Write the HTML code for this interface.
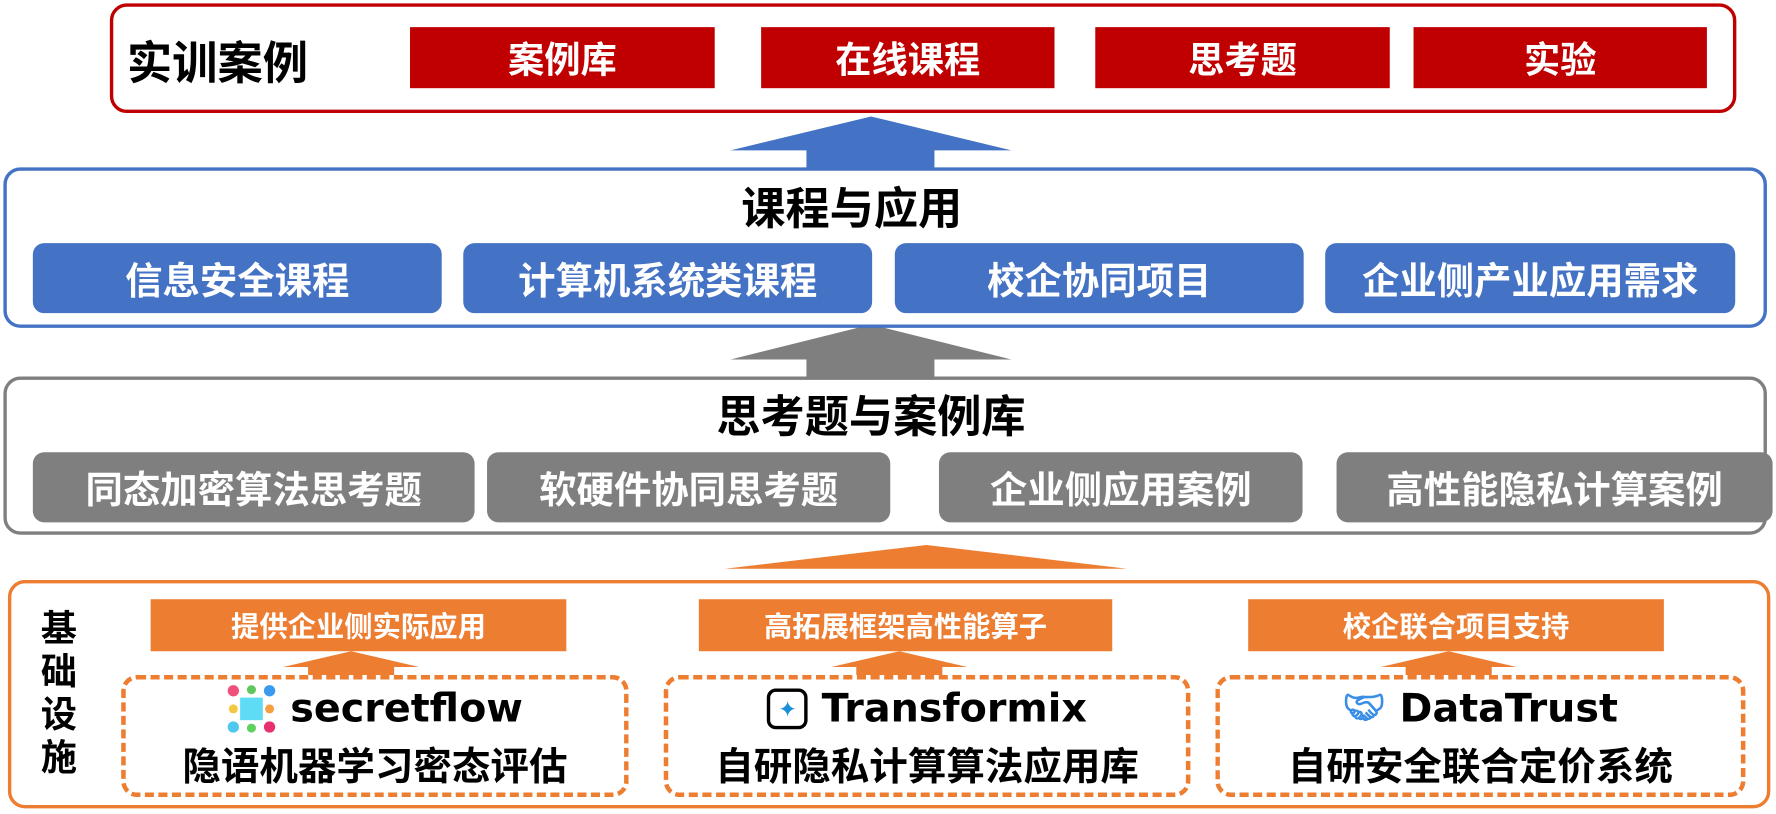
<!DOCTYPE html><html><head><meta charset="utf-8"><style>
body{margin:0;width:1776px;height:814px;overflow:hidden;background:#fff;font-family:"Liberation Sans","Noto Sans CJK SC",sans-serif;font-weight:bold}
#w{position:absolute;left:0;top:0;width:1568px;height:720px;transform:scale(1.13265,1.1306);transform-origin:0 0}
.a{position:absolute;box-sizing:border-box;display:flex;align-items:center;justify-content:center;white-space:nowrap}
.rb{background:#c00000;color:#fff;font-size:32px;top:24px;height:54px}
.bp{background:#4472c4;color:#fff;font-size:33px;top:215px;height:62px;border-radius:10px}
.gp{background:#7f7f7f;color:#fff;font-size:33px;top:400px;height:62px;border-radius:10px}
.ob{background:#ed7d31;color:#fff;font-size:25px;top:530px;height:46px}
.db{border:4px dashed #ed7d31;border-radius:14px;top:597px;height:108px;flex-direction:column;color:#000}
.db .l{font-size:35px;display:flex;align-items:center;gap:12px;height:48px;font-family:"DejaVu Sans","Noto Sans CJK SC",sans-serif}
.db .c{font-size:34px}
svg{position:absolute;left:0;top:0}
</style></head><body><div id="w">
<svg width="1568" height="720">
<polygon points="645,133 769,103 893,133 825,133 825,150 712,150 712,133" fill="#4472c4"/>
<polygon points="645,318 769,287 893,318 825,318 825,335 712,335 712,318" fill="#7f7f7f"/>
<polygon points="640,503 818,482 995,503" fill="#ed7d31"/>
<g fill="#ed7d31">
<polygon points="272,597 272,590 250,590 310,576 370,590 348,590 348,597"/>
<polygon points="756,597 756,590 734,590 794,576 854,590 832,590 832,597"/>
<polygon points="1241,597 1241,590 1219,590 1279,576 1339,590 1317,590 1317,597"/>
</g>
</svg>
<div class="a" style="left:97px;top:3px;width:1436px;height:97px;border:3px solid #c00000;border-radius:15px"></div>
<div class="a" style="left:112px;top:28px;height:50px;font-size:40px;color:#000">实训案例</div>
<div class="a rb" style="left:362px;width:269px">案例库</div>
<div class="a rb" style="left:672px;width:259px">在线课程</div>
<div class="a rb" style="left:967px;width:260px">思考题</div>
<div class="a rb" style="left:1248px;width:259px">实验</div>

<div class="a" style="left:3px;top:148px;width:1557px;height:142px;border:3px solid #4472c4;border-radius:15px"></div>
<div class="a" style="left:0;width:1568px;top:158px;height:48px;font-size:39px;color:#000;padding-right:64px">课程与应用</div>
<div class="a bp" style="left:29px;width:361px">信息安全课程</div>
<div class="a bp" style="left:409px;width:361px">计算机系统类课程</div>
<div class="a bp" style="left:790px;width:361px">校企协同项目</div>
<div class="a bp" style="left:1170px;width:362px">企业侧产业应用需求</div>

<div class="a" style="left:3px;top:333px;width:1557px;height:140px;border:3px solid #7f7f7f;border-radius:15px"></div>
<div class="a" style="left:0;width:1568px;top:342px;height:48px;font-size:39px;color:#000;padding-right:30px">思考题与案例库</div>
<div class="a gp" style="left:29px;width:390px">同态加密算法思考题</div>
<div class="a gp" style="left:430px;width:356px">软硬件协同思考题</div>
<div class="a gp" style="left:829px;width:321px">企业侧应用案例</div>
<div class="a gp" style="left:1180px;width:385px">高性能隐私计算案例</div>

<div class="a" style="left:7px;top:513px;width:1556px;height:202px;border:3px solid #ed7d31;border-radius:15px"></div>
<div class="a" style="left:32px;top:535px;width:40px;height:155px;font-size:32px;white-space:normal;line-height:38px;text-align:center;color:#000">基础设施</div>
<div class="a ob" style="left:133px;width:367px">提供企业侧实际应用</div>
<div class="a ob" style="left:617px;width:365px">高拓展框架高性能算子</div>
<div class="a ob" style="left:1102px;width:367px">校企联合项目支持</div>

<div class="a db" style="left:107px;width:448px"><div class="l"><svg style="position:static" width="44" height="44" viewBox="0 0 44 44"><rect x="12" y="12" width="20" height="20" fill="#5fdcf5"/><circle cx="6" cy="6" r="5" fill="#f0507a"/><circle cx="22" cy="5" r="4" fill="#5ec860"/><circle cx="38" cy="6" r="5" fill="#3a9af0"/><circle cx="6" cy="22" r="4" fill="#f5c842"/><circle cx="38" cy="22" r="4" fill="#f5a040"/><circle cx="6" cy="38" r="5" fill="#4fc8f0"/><circle cx="22" cy="39" r="4" fill="#60d060"/><circle cx="38" cy="38" r="5" fill="#e83070"/></svg>secretflow</div><div class="c">隐语机器学习密态评估</div></div>
<div class="a db" style="left:586px;width:465px"><div class="l"><span style="width:36px;height:36px;border:3px solid #000;border-radius:8px;box-sizing:border-box;display:inline-block;color:#1a8fd8;font-size:20px;text-align:center;line-height:30px">✦</span>Transformix</div><div class="c">自研隐私计算算法应用库</div></div>
<div class="a db" style="left:1073px;width:468px"><div class="l"><span style="color:#3a8ee6;font-size:30px">🤝︎</span>DataTrust</div><div class="c">自研安全联合定价系统</div></div>
</div></body></html>
